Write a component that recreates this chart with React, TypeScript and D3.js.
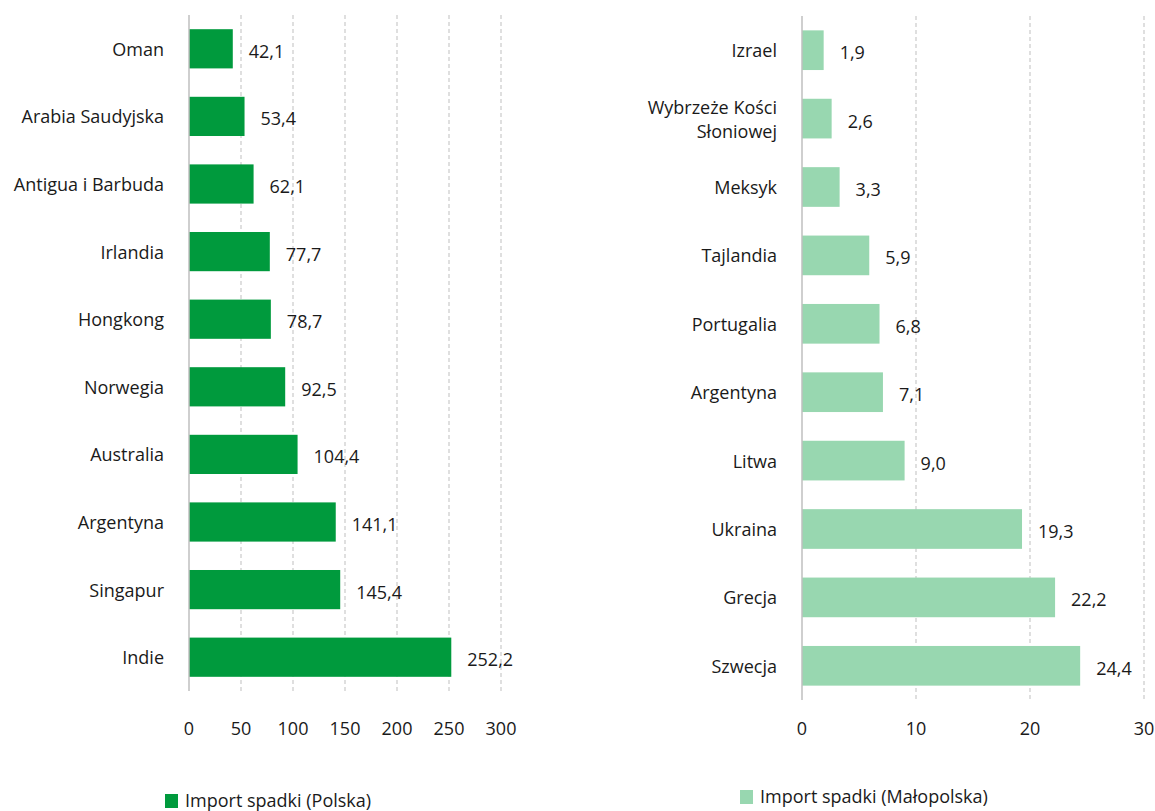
import React from "react";
import * as d3 from "d3";

const leftCategories = ["Oman", "Arabia Saudyjska", "Antigua i Barbuda", "Irlandia", "Hongkong", "Norwegia", "Australia", "Argentyna", "Singapur", "Indie"];
const leftValues = [42.1, 53.4, 62.1, 77.7, 78.7, 92.5, 104.4, 141.1, 145.4, 252.2];
const leftTicks = [0, 50, 100, 150, 200, 250, 300];
const leftLegend = "Import spadki (Polska)";

const rightCategories = ["Izrael", "Wybrzeże Kości Słoniowej", "Meksyk", "Tajlandia", "Portugalia", "Argentyna", "Litwa", "Ukraina", "Grecja", "Szwecja"];
const rightLabelLines: Record<string, string[]> = { "Wybrzeże Kości Słoniowej": ["Wybrzeże Kości", "Słoniowej"] };
const rightValues = [1.9, 2.6, 3.3, 5.9, 6.8, 7.1, 9.0, 19.3, 22.2, 24.4];
const rightTicks = [0, 10, 20, 30];
const rightLegend = "Import spadki (Małopolska)";

const FONT = "'Open Sans', 'Liberation Sans', sans-serif";
const FS = 18;
const fmt = (v: number) => v.toFixed(1).replace(".", ",");

type PanelProps = {
  cats: string[]; vals: number[]; ticks: number[];
  x0: number; x1: number; y0: number; y1: number;
  color: string; legend: string; legendX: number; legendY: number;
};

function Panel({ cats, vals, ticks, x0, x1, y0, y1, color, legend, legendX, legendY }: PanelProps) {
  const x = d3.scaleLinear().domain([0, ticks[ticks.length - 1]]).range([x0, x1]);
  const y = d3.scaleBand().domain(cats).range([y0, y1]).paddingInner(0.42).paddingOuter(0.21);
  return (
    <g fontFamily={FONT} fill="#1a1a1a">
      {ticks.slice(1).map((t) => (
        <line key={t} x1={x(t)} x2={x(t)} y1={y0} y2={y1} stroke="#bfbfbf" strokeDasharray="4,3" strokeWidth={1} />
      ))}
      {cats.map((c, i) => (
        <rect key={c} x={x(0)} y={y(c)!} width={x(vals[i]) - x(0)} height={y.bandwidth()} fill={color} />
      ))}
      <line x1={x(0)} x2={x(0)} y1={y0} y2={y1} stroke="#bfbfbf" strokeWidth={1.5} />
      {cats.map((c, i) => {
        const cy = y(c)! + y.bandwidth() / 2;
        const lines = rightLabelLines[c] || [c];
        return (
          <g key={c}>
            <text x={x(0) - 25} y={cy - (lines.length - 1) * 12} textAnchor="end" dominantBaseline="central" fontSize={FS}>
              {lines.map((l, k) => (
                <tspan key={k} x={x(0) - 25} dy={k === 0 ? 0 : 24}>{l}</tspan>
              ))}
            </text>
            <text x={x(vals[i]) + 16} y={cy + 2} dominantBaseline="central" fontSize={FS}>{fmt(vals[i])}</text>
          </g>
        );
      })}
      {ticks.map((t) => (
        <text key={t} x={x(t)} y={728} textAnchor="middle" dominantBaseline="central" fontSize={FS}>{t}</text>
      ))}
      <rect x={legendX} y={legendY} width={13} height={14} fill={color} />
      <text x={legendX + 20} y={legendY + 13} fontSize={FS}>{legend}</text>
    </g>
  );
}

export default function App() {
  return (
    <svg width={1155} height={811} style={{ position: "absolute", left: 0, top: 0 }}>
      <rect width={1155} height={811} fill="#ffffff" />
      <Panel cats={leftCategories} vals={leftValues} ticks={leftTicks} x0={189} x1={501} y0={15} y1={691}
        color="#009a3d" legend={leftLegend} legendX={165} legendY={794} />
      <Panel cats={rightCategories} vals={rightValues} ticks={rightTicks} x0={802} x1={1144} y0={16} y1={700}
        color="#98d7b0" legend={rightLegend} legendX={740} legendY={790} />
    </svg>
  );
}
